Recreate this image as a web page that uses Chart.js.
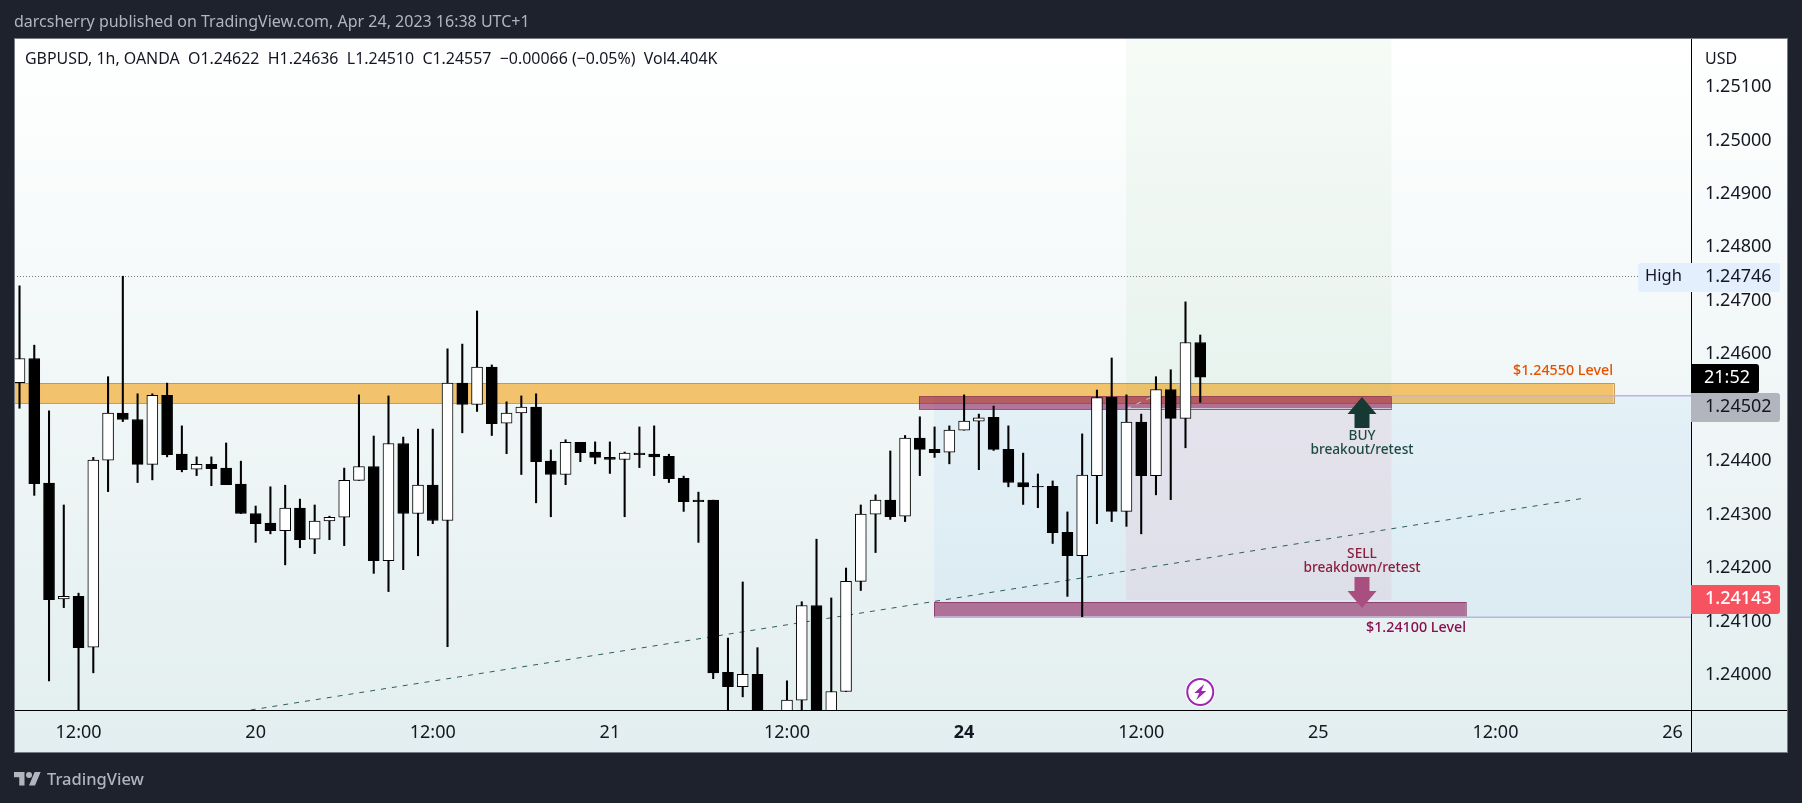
<!DOCTYPE html>
<html><head><meta charset="utf-8">
<script src="https://cdn.jsdelivr.net/npm/chart.js@4"></script>
<style>
html,body{margin:0;padding:0;background:#1e222d;width:1802px;height:803px;overflow:hidden}
canvas{position:absolute;left:0;top:0}
#pub{position:absolute;left:14px;top:10px;font:16px/22px "Noto Sans",sans-serif;color:#b2b5be;white-space:nowrap}
#brand{position:absolute;left:47px;top:767px;font:500 16.5px/24px "Noto Sans",sans-serif;color:#b2b5be;white-space:nowrap}
#logo{position:absolute;left:14px;top:769px;width:27px;height:21px;fill:#b2b5be}
</style></head><body>
<canvas id="c" width="1802" height="803"></canvas>
<div id="pub">darcsherry published on TradingView.com, Apr 24, 2023 16:38 UTC+1</div>
<svg id="logo" viewBox="0 0 36 28"><path d="M14 22H7V11H0V4h14v18zM28 22h-8l7.5-18h8L28 22z"/><circle cx="20" cy="8" r="4"/></svg>
<div id="brand">TradingView</div>
<script>
const opens =[1.24547,1.24592,1.24359,1.24142,1.24147,1.24052,1.24402,1.24490,1.24478,1.24394,1.24523,1.24413,1.24385,1.24394,1.24387,1.24357,1.24302,1.24284,1.24270,1.24312,1.24254,1.24288,1.24295,1.24364,1.24390,1.24214,1.24433,1.24302,1.24355,1.24289,1.24546,1.24506,1.24576,1.24471,1.24490,1.24501,1.24400,1.24375,1.24435,1.24417,1.24407,1.24403,1.24415,1.24413,1.24409,1.24368,1.24327,1.24327,1.24005,1.23978,1.24001,null,1.23920,1.23953,1.24130,1.23910,1.23969,1.24175,1.24301,1.24327,1.24297,1.24443,1.24422,1.24417,1.24458,1.24475,1.24482,1.24422,1.24360,1.24353,1.24353,1.24267,1.24223,1.24373,1.24520,1.24306,1.24473,1.24373,1.24534,1.24480,1.24622];
const highs =[1.24728,1.24617,1.24494,1.24318,1.24153,1.24407,1.24558,1.24746,1.24526,1.24526,1.24546,1.24466,1.24408,1.24408,1.24434,1.24400,1.24316,1.24352,1.24355,1.24329,1.24318,1.24297,1.24387,1.24524,1.24447,1.24522,1.24445,1.24460,1.24460,1.24610,1.24619,1.24681,1.24580,1.24511,1.24522,1.24526,1.24421,1.24440,1.24435,1.24436,1.24436,1.24417,1.24464,1.24466,1.24413,1.24372,1.24342,1.24327,1.24069,1.24174,1.24051,null,1.23989,1.24137,1.24254,1.24144,1.24200,1.24318,1.24337,1.24419,1.24448,1.24483,1.24464,1.24466,1.24524,1.24488,1.24503,1.24466,1.24415,1.24376,1.24363,1.24305,1.24451,1.24533,1.24593,1.24524,1.24488,1.24558,1.24571,1.24698,1.24636];
const lows  =[1.24499,1.24336,1.23989,1.24126,1.23920,1.24004,1.24343,1.24474,1.24360,1.24365,1.24408,1.24380,1.24373,1.24354,1.24356,1.24302,1.24248,1.24264,1.24206,1.24238,1.24227,1.24253,1.24242,1.24364,1.24190,1.24156,1.24197,1.24223,1.24283,1.24053,1.24453,1.24493,1.24448,1.24414,1.24375,1.24322,1.24296,1.24356,1.24399,1.24395,1.24377,1.24296,1.24388,1.24373,1.24360,1.24306,1.24248,1.23993,1.23920,1.23959,1.23880,null,1.23900,1.23920,1.23890,1.23900,1.23969,1.24158,1.24229,1.24291,1.24287,1.24373,1.24407,1.24395,1.24458,1.24384,1.24420,1.24352,1.24319,1.24313,1.24246,1.24147,1.24109,1.24283,1.24287,1.24278,1.24264,1.24337,1.24328,1.24425,1.24510];
const closes=[1.24592,1.24358,1.24141,1.24147,1.24051,1.24402,1.24490,1.24478,1.24394,1.24523,1.24412,1.24384,1.24394,1.24386,1.24356,1.24302,1.24283,1.24270,1.24312,1.24253,1.24288,1.24295,1.24364,1.24390,1.24214,1.24433,1.24302,1.24355,1.24289,1.24546,1.24506,1.24576,1.24470,1.24490,1.24501,1.24399,1.24375,1.24435,1.24416,1.24407,1.24403,1.24415,1.24412,1.24408,1.24367,1.24324,1.24324,1.24004,1.23978,1.24001,1.23900,null,1.23953,1.24130,1.23900,1.23969,1.24175,1.24301,1.24327,1.24296,1.24443,1.24422,1.24416,1.24458,1.24475,1.24481,1.24422,1.24360,1.24352,1.24352,1.24266,1.24223,1.24374,1.24519,1.24306,1.24473,1.24373,1.24534,1.24480,1.24622,1.24557];

const yTicks=[1.251,1.25,1.249,1.248,1.247,1.246,1.244,1.243,1.242,1.241,1.24];
const xTickBars=[4,16,28,40,52,64,76,88,100,112];
const xTickLabels=['12:00','20','12:00','21','12:00','24','12:00','25','12:00','26'];
const trendX=[15.66,105.8];
const trendY=[1.239344,1.243298];

const FONT='"Noto Sans",sans-serif';
const TICKPX=18;
const DARK='#131722';

function rectZ(c,x0,x1,p0,p1,fill,stroke){
  const sx=c.scales.x,sy=c.scales.y,ctx=c.ctx;
  const a=sx.getPixelForValue(x0),b=sx.getPixelForValue(x1),t=sy.getPixelForValue(p0),u=sy.getPixelForValue(p1);
  ctx.fillStyle=fill;ctx.fillRect(a,t,b-a,u-t);
  if(stroke){ctx.strokeStyle=stroke;ctx.lineWidth=1;ctx.strokeRect(Math.round(a)+.5,Math.round(t)+.5,Math.round(b-a),Math.round(u-t));}
}
const paneBg={id:'paneBg',beforeDraw(c){
  const ctx=c.ctx;ctx.save();
  const g=ctx.createLinearGradient(0,38,0,753);
  g.addColorStop(0,'#ffffff');g.addColorStop(1,'#e2eeef');
  ctx.fillStyle=g;ctx.fillRect(14,38,1774,715);
  ctx.restore();
}};
const zones={id:'zones',beforeDatasetsDraw(c){
  const ctx=c.ctx,a=c.chartArea,sx=c.scales.x,sy=c.scales.y;
  ctx.save();ctx.beginPath();ctx.rect(a.left,a.top,a.right-a.left,a.bottom-a.top);ctx.clip();
  rectZ(c,-1,108,1.245456,1.245082,'rgba(245,166,35,0.65)','rgba(190,130,50,0.75)');
  rectZ(c,61.96,114,1.245224,1.241079,'rgba(41,150,255,0.06)');
  rectZ(c,74.97,92.95,1.2525,1.245224,'rgba(76,175,80,0.05)');
  rectZ(c,74.97,92.95,1.245224,1.241402,'rgba(240,60,110,0.07)');
  rectZ(c,60.94,92.95,1.245213,1.244963,'rgba(136,14,79,0.55)','rgba(120,30,80,0.55)');
  rectZ(c,61.96,98,1.241365,1.241092,'rgba(136,14,79,0.55)','rgba(120,30,80,0.55)');
  ctx.strokeStyle='#bdb3e0';ctx.lineWidth=1.5;
  let y=sy.getPixelForValue(1.245224);
  ctx.beginPath();ctx.moveTo(sx.getPixelForValue(92.95),y);ctx.lineTo(a.right,y);ctx.stroke();
  y=sy.getPixelForValue(1.241079);
  ctx.beginPath();ctx.moveTo(sx.getPixelForValue(61.96),y);ctx.lineTo(a.right,y);ctx.stroke();
  y=sy.getPixelForValue(1.244985);
  ctx.strokeStyle='rgba(205,205,212,0.95)';ctx.lineWidth=1;
  ctx.beginPath();ctx.moveTo(sx.getPixelForValue(74.97),y);ctx.lineTo(sx.getPixelForValue(92.95),y);ctx.stroke();
  ctx.setLineDash([5,6]);
  ctx.beginPath();ctx.moveTo(sx.getPixelForValue(75),sy.getPixelForValue(1.24498));ctx.lineTo(sx.getPixelForValue(79.7),sy.getPixelForValue(1.24558));ctx.stroke();
  ctx.setLineDash([1,2]);ctx.strokeStyle='#787b86';ctx.lineWidth=1;
  y=Math.round(sy.getPixelForValue(1.24746))+.5;
  ctx.beginPath();ctx.moveTo(14,y);ctx.lineTo(1691,y);ctx.stroke();
  ctx.restore();
}};
function txt(ctx,s,x,y,color,font,align){
  ctx.fillStyle=color;ctx.font=font;ctx.textAlign=align||'left';ctx.textBaseline='middle';ctx.fillText(s,x,y);
}
function rr(ctx,x,y,w,h,r,fill){ctx.fillStyle=fill;ctx.beginPath();ctx.roundRect(x,y,w,h,r);ctx.fill();}
const overlay={id:'overlay',afterDraw(c){
  const ctx=c.ctx;ctx.save();
  ctx.strokeStyle='#787b86';ctx.lineWidth=1;ctx.strokeRect(14.5,38.5,1773,714);
  ctx.strokeStyle='#000';ctx.lineWidth=1;
  ctx.beginPath();ctx.moveTo(15,710.5);ctx.lineTo(1787,710.5);ctx.moveTo(1691.5,39);ctx.lineTo(1691.5,752);ctx.stroke();

  const ax=1362;
  ctx.fillStyle='#163a33';ctx.beginPath();
  ctx.moveTo(ax,397);ctx.lineTo(ax+14.5,414);ctx.lineTo(ax+7.5,414);ctx.lineTo(ax+7.5,428);ctx.lineTo(ax-7.5,428);ctx.lineTo(ax-7.5,414);ctx.lineTo(ax-14.5,414);ctx.closePath();ctx.fill();
  ctx.fillStyle='#a84f80';ctx.beginPath();
  ctx.moveTo(ax,608);ctx.lineTo(ax+14.5,591);ctx.lineTo(ax+7.5,591);ctx.lineTo(ax+7.5,577);ctx.lineTo(ax-7.5,577);ctx.lineTo(ax-7.5,591);ctx.lineTo(ax-14.5,591);ctx.closePath();ctx.fill();

  const small='500 13.7px '+FONT, lvl='500 14.3px '+FONT;
  txt(ctx,'BUY',ax,436,'#1d4a40',small,'center');
  txt(ctx,'breakout/retest',ax,450,'#1d4a40',small,'center');
  txt(ctx,'SELL',ax,554,'#8a1f3d',small,'center');
  txt(ctx,'breakdown/retest',ax,568,'#8a1f3d',small,'center');
  txt(ctx,'$1.24550 Level',1613,371,'#e65100',lvl,'right');
  txt(ctx,'$1.24100 Level',1466,628,'#880e4f',lvl,'right');

  txt(ctx,'GBPUSD, 1h, OANDA  O1.24622  H1.24636  L1.24510  C1.24557  \u22120.00066 (\u22120.05%)  Vol4.404K',25,59,DARK,'15.95px '+FONT);
  txt(ctx,'USD',1705,59,DARK,'16px '+FONT);

  rr(ctx,1638,263,142,29,3,'#e3effd');
  txt(ctx,'High',1645,276,DARK,'16.5px '+FONT);
  txt(ctx,'1.24746',1705,277,DARK,TICKPX+'px '+FONT);
  rr(ctx,1691,364,68,29,[0,3,3,0],'#000');
  txt(ctx,'21:52',1727,378,'#fff',TICKPX+'px '+FONT,'center');
  rr(ctx,1691,393,89,29,[0,3,3,0],'#b2b5be');
  txt(ctx,'1.24502',1705,407,DARK,TICKPX+'px '+FONT);
  rr(ctx,1691,585,89,29,[0,3,3,0],'#f7525f');
  txt(ctx,'1.24143',1705,599,'#fff','500 '+TICKPX+'px '+FONT);

  const bx=c.scales.x.getPixelForValue(80),by=692;
  ctx.fillStyle='#fff';ctx.beginPath();ctx.arc(bx,by,15,0,7);ctx.fill();
  ctx.strokeStyle='#9c27b0';ctx.lineWidth=2;ctx.beginPath();ctx.arc(bx,by,13,0,7);ctx.stroke();
  ctx.fillStyle='#9c27b0';ctx.beginPath();
  ctx.moveTo(bx+4,by-8);ctx.lineTo(bx-6,by+1);ctx.lineTo(bx-1,by+1);ctx.lineTo(bx-4,by+8);ctx.lineTo(bx+6,by-1);ctx.lineTo(bx+1,by-1);ctx.closePath();ctx.fill();
  ctx.restore();
}};

const idx=opens.map((_,i)=>i);
new Chart(document.getElementById('c'),{
  data:{datasets:[
    {type:'bar',label:'bodies',order:1,grouped:false,barThickness:11,borderWidth:1,borderColor:'#000',borderSkipped:false,
      backgroundColor:idx.map(i=>closes[i]>opens[i]?'#ffffff':'#000000'),
      data:idx.map(i=>({x:i,y:opens[i]==null?null:[opens[i],closes[i]]}))},
    {type:'bar',label:'wicks',order:2,grouped:false,barThickness:1.4,backgroundColor:'#000',borderWidth:0,
      data:idx.map(i=>({x:i,y:highs[i]==null?null:[lows[i],highs[i]]}))},
    {type:'line',label:'trend',order:3,borderColor:'#2f5d5a',borderWidth:1,borderDash:[5,6],pointRadius:0,fill:false,
      data:trendX.map((x,i)=>({x,y:trendY[i]}))}
  ]},
  options:{
    responsive:false,animation:false,devicePixelRatio:1,
    layout:{padding:{left:14,top:38,right:14,bottom:50}},
    plugins:{legend:{display:false},title:{display:false},tooltip:{enabled:false}},
    scales:{
      x:{type:'linear',offset:false,min:-0.373,max:113.25,grid:{display:false},border:{display:false},
        afterBuildTicks(s){s.ticks=xTickBars.map(v=>({value:v}));},
        afterFit(s){s.height=43;},
        ticks:{autoSkip:false,maxRotation:0,padding:4,color:DARK,
          font:ctx=>({family:FONT,size:TICKPX,weight:ctx.tick&&ctx.tick.value===64?'bold':'normal'}),
          callback:v=>{const i=xTickBars.indexOf(v);return i<0?'':xTickLabels[i];}}},
      y:{type:'linear',position:'right',min:1.239344,max:1.251917,grid:{display:false},border:{display:false},
        afterBuildTicks(s){s.ticks=yTicks.map(v=>({value:v}));},
        afterFit(s){s.width=97;},
        ticks:{autoSkip:false,padding:6,color:DARK,font:{family:FONT,size:TICKPX},callback:v=>v.toFixed(5)}}
    }
  },
  plugins:[paneBg,zones,overlay]
});
</script>
</body></html>
